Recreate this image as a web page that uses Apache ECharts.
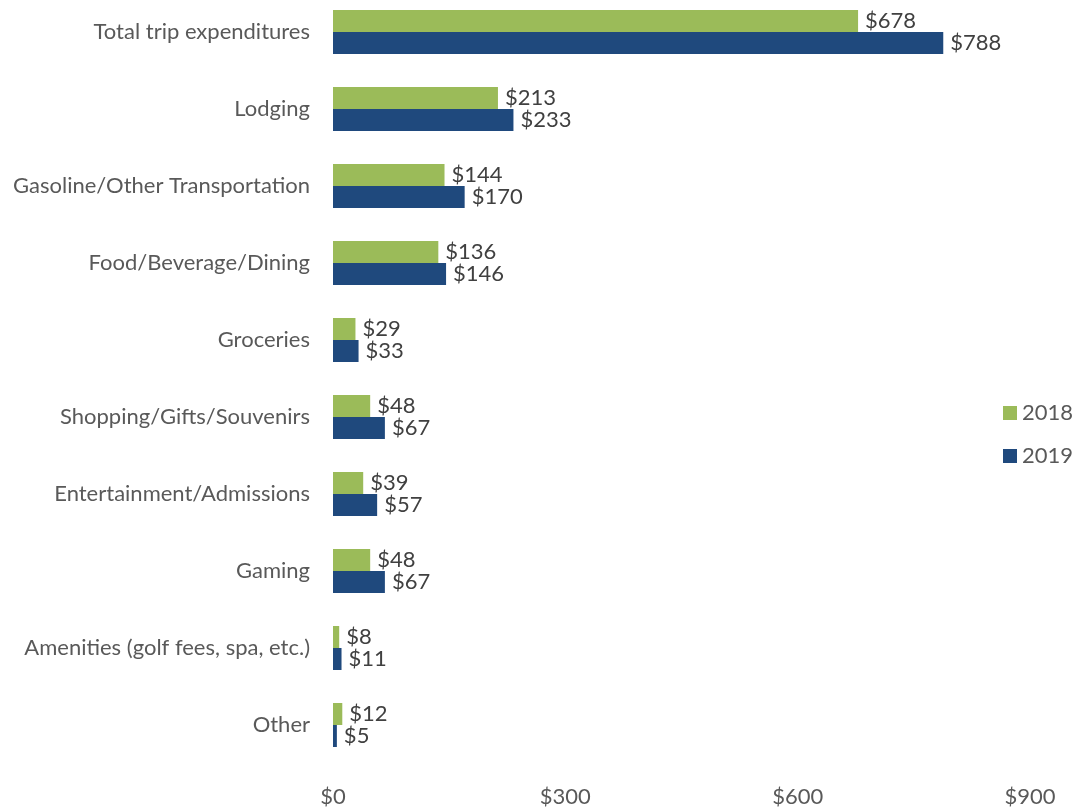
<!DOCTYPE html>
<html lang="en">

<head>
  <meta charset="UTF-8">
  <title>Trip expenditures</title>
  <style>
    html, body { margin: 0; padding: 0; background: #fff; }
    .main { width: 1072px; height: 809px; }
  </style>
</head>

<body>
  <div class="main"></div>

  <script src="https://cdn.jsdelivr.net/npm/echarts@6/dist/echarts.min.js"></script>
  <script>
    const categories = ['Total trip expenditures', 'Lodging', 'Gasoline/Other Transportation', 'Food/Beverage/Dining',
      'Groceries', 'Shopping/Gifts/Souvenirs', 'Entertainment/Admissions', 'Gaming',
      'Amenities (golf fees, spa, etc.)', 'Other']
    const values2018 = [678, 213, 144, 136, 29, 48, 39, 48, 8, 12]
    const values2019 = [788, 233, 170, 146, 33, 67, 57, 67, 11, 5]
    const xTicks = [0, 300, 600, 900]

    const font = 'Lato, "Open Sans", sans-serif'
    const textColor = '#595959'

    var myChart = echarts.init(document.querySelector('.main'))

    const barLabel = {
      show: true,
      position: 'right',
      distance: 7,
      color: '#404040',
      fontSize: 22,
      fontFamily: font,
      formatter: p => '$' + p.value
    }

    var option = {
      animation: false,
      textStyle: { fontFamily: font },
      grid: { left: 333, right: 42, top: -6.5, bottom: 45.5, containLabel: false, outerBoundsMode: 'none' },
      legend: {
        orient: 'vertical',
        left: 998,
        top: 397,
        itemWidth: 14,
        itemHeight: 14,
        itemGap: 21,
        icon: 'rect',
        textStyle: { fontSize: 22, color: textColor, fontFamily: font },
        data: ['2018', '2019']
      },
      xAxis: {
        type: 'value',
        min: xTicks[0],
        max: xTicks[xTicks.length - 1],
        interval: 300,
        axisLine: { show: false },
        axisTick: { show: false },
        splitLine: { show: false },
        axisLabel: {
          margin: 22,
          fontSize: 22,
          color: textColor,
          fontFamily: font,
          formatter: v => '$' + v
        }
      },
      yAxis: {
        type: 'category',
        inverse: true,
        data: categories,
        axisLine: { show: false },
        axisTick: { show: false },
        axisLabel: {
          margin: 23,
          fontSize: 22,
          color: textColor,
          fontFamily: font
        }
      },
      series: [
        {
          name: '2018',
          type: 'bar',
          data: values2018,
          barWidth: 22,
          barGap: 0,
          itemStyle: { color: '#9BBB59' },
          label: barLabel
        },
        {
          name: '2019',
          type: 'bar',
          data: values2019,
          barWidth: 22,
          barGap: 0,
          itemStyle: { color: '#1F497D' },
          label: barLabel
        }
      ]
    }

    myChart.setOption(option)
  </script>
</body>

</html>
